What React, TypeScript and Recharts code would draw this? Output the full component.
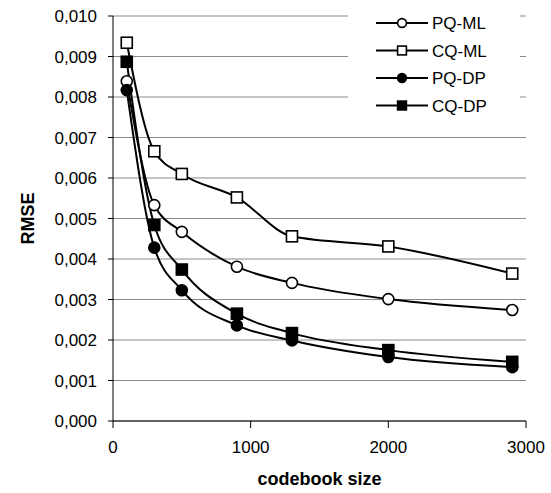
import { CartesianGrid, Label, Legend, Line, LineChart, XAxis, YAxis } from 'recharts'

const sizes = [100, 300, 500, 900, 1300, 2000, 2900]
const pqMl = [0.00839, 0.00533, 0.00467, 0.00381, 0.00341, 0.00301, 0.00274]
const cqMl = [0.00934, 0.00666, 0.0061, 0.00552, 0.00456, 0.00431, 0.00364]
const pqDp = [0.00817, 0.00428, 0.00323, 0.00236, 0.00199, 0.00158, 0.00133]
const cqDp = [0.00887, 0.00484, 0.00374, 0.00265, 0.00217, 0.00175, 0.00146]

const xTicks = [0, 1000, 2000, 3000]
const yTicks = [0, 0.001, 0.002, 0.003, 0.004, 0.005, 0.006, 0.007, 0.008, 0.009, 0.01]

const data = sizes.map((size, i) => ({
  size,
  pqMl: pqMl[i],
  cqMl: cqMl[i],
  pqDp: pqDp[i],
  cqDp: cqDp[i],
}))

const series = [
  { key: 'pqMl', name: 'PQ-ML', shape: 'circle', filled: false },
  { key: 'cqMl', name: 'CQ-ML', shape: 'square', filled: false },
  { key: 'pqDp', name: 'PQ-DP', shape: 'circle', filled: true },
  { key: 'cqDp', name: 'CQ-DP', shape: 'square', filled: true },
]

const font = '"Liberation Sans", Arial, sans-serif'

function Marker({ cx, cy, shape, filled, scale = 1 }: any) {
  if (cx == null || cy == null) return null
  const fill = filled ? '#000' : '#fff'
  if (shape === 'square') {
    const s = 11 * scale
    return <rect x={cx - s / 2} y={cy - s / 2} width={s} height={s} fill={fill} stroke="#000" strokeWidth={1.6} />
  }
  return <circle cx={cx} cy={cy} r={5.5 * scale} fill={fill} stroke="#000" strokeWidth={1.6} />
}

function LegendBox() {
  return (
    <div style={{ background: '#fff', width: 172, height: 116 }}>
      <svg width={172} height={116}>
        {series.map((s, i) => {
          const y = 19 + i * 27.5
          return (
            <g key={s.key}>
              <line x1={28} x2={80} y1={y} y2={y} stroke="#000" strokeWidth={2} />
              <Marker cx={54} cy={y} shape={s.shape} filled={s.filled} scale={0.8} />
              <text x={84} y={y + 6} fontSize={17} fontFamily={font} fill="#000">
                {s.name}
              </text>
            </g>
          )
        })}
      </svg>
    </div>
  )
}

export default function App() {
  return (
    <div style={{ position: 'absolute', left: 0, top: 0, background: '#fff' }}>
      <LineChart width={551} height={493} data={data} margin={{ top: 16, right: 25, left: 0, bottom: 0 }}>
        <CartesianGrid vertical={false} stroke="#8a8a8a" strokeWidth={1} />
        <XAxis
          dataKey="size"
          type="number"
          domain={[0, 3000]}
          ticks={xTicks}
          height={72}
          tickSize={7}
          tickMargin={13}
          stroke="#000"
          tick={{ fill: '#000', fontSize: 17, fontFamily: font }}
        >
          <Label
            value="codebook size"
            position="insideBottom"
            offset={8}
            style={{ fill: '#000', fontSize: 18, fontWeight: 'bold', fontFamily: font }}
          />
        </XAxis>
        <YAxis
          type="number"
          domain={[0, 0.01]}
          ticks={yTicks}
          width={113}
          tickSize={5}
          tickMargin={11}
          stroke="#000"
          tickFormatter={(v: number) => v.toFixed(3).replace('.', ',')}
          tick={{ fill: '#000', fontSize: 17, fontFamily: font }}
        >
          <Label
            value="RMSE"
            angle={-90}
            position="insideLeft"
            offset={28}
            style={{ fill: '#000', fontSize: 18, fontWeight: 'bold', fontFamily: font, textAnchor: 'middle' }}
          />
        </YAxis>
        <Legend
          layout="vertical"
          align="center"
          verticalAlign="middle"
          wrapperStyle={{ position: 'absolute', left: 348, top: 4, width: 172, height: 116 }}
          content={() => <LegendBox />}
        />
        {series.map((s) => (
          <Line
            key={s.key}
            type="monotone"
            dataKey={s.key}
            name={s.name}
            stroke="#000"
            strokeWidth={2}
            dot={(p: any) => <Marker key={`${s.key}-${p.index}`} cx={p.cx} cy={p.cy} shape={s.shape} filled={s.filled} />}
            activeDot={false}
            isAnimationActive={false}
          />
        ))}
      </LineChart>
    </div>
  )
}
